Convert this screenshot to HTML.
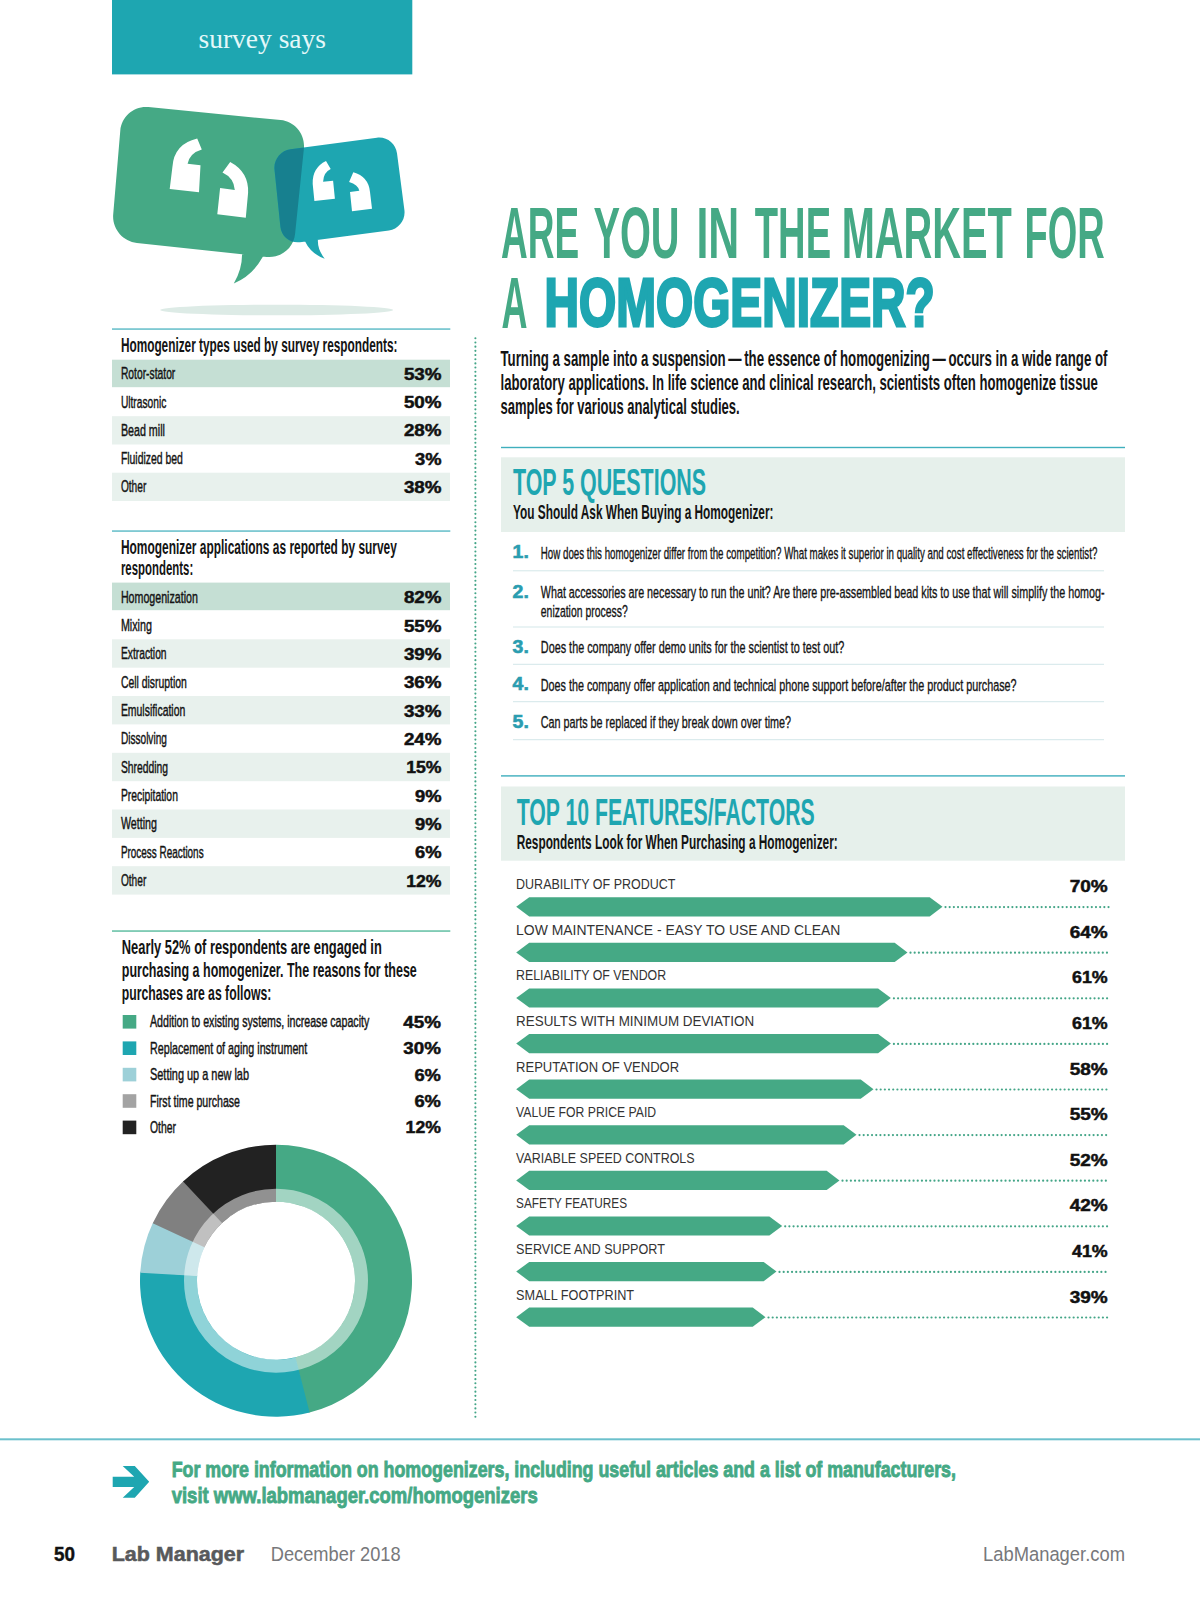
<!DOCTYPE html>
<html lang="en"><head><meta charset="utf-8"><title>Survey Says: Are You in the Market for a Homogenizer?</title>
<style>
html,body{margin:0;padding:0;background:#fff}
body{width:1200px;height:1613px;overflow:hidden;position:relative}
svg{display:block;position:absolute;left:0;top:0}
text{white-space:pre}
.s{font-family:"Liberation Sans",Arial,Helvetica,sans-serif}
.r{font-family:"Liberation Serif","Times New Roman",serif}
</style></head><body>
<svg width="1200" height="1613" viewBox="0 0 1200 1613">
<g id="header">
<rect x="112.0" y="0.0" width="300.3" height="74.4" fill="#1EA6B1"/>
<text class="r" x="198.5" y="48.3" font-size="28.0" fill="#E4F8F9" textLength="127.5" lengthAdjust="spacingAndGlyphs">survey says</text>
</g>
<g id="bubbles">
<ellipse cx="276.7" cy="310" rx="116.5" ry="5.3" fill="#DDEBE6"/>
<path d="M120.3,130.4 C121.5,116.2 134.1,105.6 148.4,107.0 L280.6,120.1 C294.9,121.5 305.3,134.2 303.9,148.5 L295.1,233.7 C293.7,248.0 280.9,258.4 266.6,256.9 L136.9,243.0 C122.6,241.5 112.0,228.6 113.2,214.4 Z M266,252 L262.2,257.8 Q252,276 233.8,283.4 Q242,270 242.1,254.1 L242,248 Z" fill="#45A985"/>
<path d="M274.5,169.5 C273.5,159.7 280.7,150.5 290.5,149.2 L376.9,137.7 C386.7,136.4 395.7,143.3 397.0,153.2 L404.4,210.1 C405.7,220.0 398.7,229.1 388.9,230.4 L300.0,242.2 C290.2,243.5 281.4,236.5 280.4,226.7 Z M318.5,234 L318,239 Q317,249 324.7,258.7 Q311,254 304.7,240.7 L304,236 Z" fill="#1EA6B1"/>
<clipPath id="gc"><path d="M120.3,130.4 C121.5,116.2 134.1,105.6 148.4,107.0 L280.6,120.1 C294.9,121.5 305.3,134.2 303.9,148.5 L295.1,233.7 C293.7,248.0 280.9,258.4 266.6,256.9 L136.9,243.0 C122.6,241.5 112.0,228.6 113.2,214.4 Z M266,252 L262.2,257.8 Q252,276 233.8,283.4 Q242,270 242.1,254.1 L242,248 Z"/></clipPath>
<path d="M274.5,169.5 C273.5,159.7 280.7,150.5 290.5,149.2 L376.9,137.7 C386.7,136.4 395.7,143.3 397.0,153.2 L404.4,210.1 C405.7,220.0 398.7,229.1 388.9,230.4 L300.0,242.2 C290.2,243.5 281.4,236.5 280.4,226.7 Z M318.5,234 L318,239 Q317,249 324.7,258.7 Q311,254 304.7,240.7 L304,236 Z" fill="#17808F" clip-path="url(#gc)"/>
<path d="M169.7,189 L199,192.3 L200.5,165.2 L187.6,163.7 Q190,153 201.8,149.6 L197.2,138.6 Q174,144 172.4,167 Z" fill="#fff"/>
<path d="M230.2,161.9 Q249,172 248.1,192.7 L245.8,217.8 L217.3,214.3 L220.1,188.1 L234.8,189.9 Q234,178 222.5,172.5 Z" fill="#fff"/>
<path d="M314.4,200.9 L334.9,198.7 L333.1,180.7 L323.1,181.7 Q323.5,172.5 330.7,169.1 L326,161.1 Q312,168 312.7,184 Z" fill="#fff"/>
<path d="M353.3,172.3 Q368.5,176.5 370,192 L372,208.7 L352,211.3 L350,192 L359.3,190.7 Q358,184.5 349.1,182 Z" fill="#fff"/>
</g>
<g id="table1">
<rect x="112.0" y="328.5" width="338.3" height="1.1" fill="#2BA6B5"/>
<text class="s" x="120.9" y="351.7" font-size="20.0" font-weight="700" fill="#141414" textLength="276.5" lengthAdjust="spacingAndGlyphs">Homogenizer types used by survey respondents:</text>
<rect x="112.0" y="359.7" width="338.0" height="27.5" fill="#C5DFD4"/>
<text class="s" x="120.9" y="379.2" font-size="17.1" fill="#141414" textLength="54.4" lengthAdjust="spacingAndGlyphs" stroke="#141414" stroke-width="0.45">Rotor-stator</text>
<text class="s" x="403.9" y="379.7" font-size="16.6" font-weight="700" fill="#111" textLength="37.6" lengthAdjust="spacingAndGlyphs" stroke="#111" stroke-width="0.5">53%</text>
<text class="s" x="120.9" y="407.5" font-size="17.1" fill="#141414" textLength="45.4" lengthAdjust="spacingAndGlyphs" stroke="#141414" stroke-width="0.45">Ultrasonic</text>
<text class="s" x="403.9" y="408.0" font-size="16.6" font-weight="700" fill="#111" textLength="37.6" lengthAdjust="spacingAndGlyphs" stroke="#111" stroke-width="0.5">50%</text>
<rect x="112.0" y="416.2" width="338.0" height="28.3" fill="#E8F1ED"/>
<text class="s" x="120.9" y="435.7" font-size="17.1" fill="#141414" textLength="44.0" lengthAdjust="spacingAndGlyphs" stroke="#141414" stroke-width="0.45">Bead mill</text>
<text class="s" x="403.9" y="436.2" font-size="16.6" font-weight="700" fill="#111" textLength="37.6" lengthAdjust="spacingAndGlyphs" stroke="#111" stroke-width="0.5">28%</text>
<text class="s" x="120.9" y="464.0" font-size="17.1" fill="#141414" textLength="62.0" lengthAdjust="spacingAndGlyphs" stroke="#141414" stroke-width="0.45">Fluidized bed</text>
<text class="s" x="415.0" y="464.5" font-size="16.6" font-weight="700" fill="#111" textLength="26.5" lengthAdjust="spacingAndGlyphs" stroke="#111" stroke-width="0.5">3%</text>
<rect x="112.0" y="472.7" width="338.0" height="28.3" fill="#E8F1ED"/>
<text class="s" x="120.9" y="492.2" font-size="17.1" fill="#141414" textLength="25.4" lengthAdjust="spacingAndGlyphs" stroke="#141414" stroke-width="0.45">Other</text>
<text class="s" x="403.9" y="492.7" font-size="16.6" font-weight="700" fill="#111" textLength="37.6" lengthAdjust="spacingAndGlyphs" stroke="#111" stroke-width="0.5">38%</text>
</g>
<g id="table2">
<rect x="112.0" y="530.5" width="338.3" height="1.1" fill="#2BA6B5"/>
<text class="s" x="120.9" y="553.7" font-size="20.0" font-weight="700" fill="#141414" textLength="276.0" lengthAdjust="spacingAndGlyphs">Homogenizer applications as reported by survey</text>
<text class="s" x="120.9" y="575.3" font-size="20.0" font-weight="700" fill="#141414" textLength="72.3" lengthAdjust="spacingAndGlyphs">respondents:</text>
<rect x="112.0" y="582.6" width="338.0" height="27.6" fill="#C5DFD4"/>
<text class="s" x="120.9" y="602.5" font-size="17.1" fill="#141414" textLength="77.0" lengthAdjust="spacingAndGlyphs" stroke="#141414" stroke-width="0.45">Homogenization</text>
<text class="s" x="403.9" y="603.1" font-size="16.6" font-weight="700" fill="#111" textLength="37.6" lengthAdjust="spacingAndGlyphs" stroke="#111" stroke-width="0.5">82%</text>
<text class="s" x="120.9" y="630.9" font-size="17.1" fill="#141414" textLength="31.0" lengthAdjust="spacingAndGlyphs" stroke="#141414" stroke-width="0.45">Mixing</text>
<text class="s" x="403.9" y="631.5" font-size="16.6" font-weight="700" fill="#111" textLength="37.6" lengthAdjust="spacingAndGlyphs" stroke="#111" stroke-width="0.5">55%</text>
<rect x="112.0" y="639.3" width="338.0" height="28.4" fill="#E8F1ED"/>
<text class="s" x="120.9" y="659.2" font-size="17.1" fill="#141414" textLength="45.7" lengthAdjust="spacingAndGlyphs" stroke="#141414" stroke-width="0.45">Extraction</text>
<text class="s" x="403.9" y="659.8" font-size="16.6" font-weight="700" fill="#111" textLength="37.6" lengthAdjust="spacingAndGlyphs" stroke="#111" stroke-width="0.5">39%</text>
<text class="s" x="120.9" y="687.6" font-size="17.1" fill="#141414" textLength="66.0" lengthAdjust="spacingAndGlyphs" stroke="#141414" stroke-width="0.45">Cell disruption</text>
<text class="s" x="403.9" y="688.2" font-size="16.6" font-weight="700" fill="#111" textLength="37.6" lengthAdjust="spacingAndGlyphs" stroke="#111" stroke-width="0.5">36%</text>
<rect x="112.0" y="696.0" width="338.0" height="28.4" fill="#E8F1ED"/>
<text class="s" x="120.9" y="715.9" font-size="17.1" fill="#141414" textLength="64.4" lengthAdjust="spacingAndGlyphs" stroke="#141414" stroke-width="0.45">Emulsification</text>
<text class="s" x="403.9" y="716.5" font-size="16.6" font-weight="700" fill="#111" textLength="37.6" lengthAdjust="spacingAndGlyphs" stroke="#111" stroke-width="0.5">33%</text>
<text class="s" x="120.9" y="744.3" font-size="17.1" fill="#141414" textLength="46.0" lengthAdjust="spacingAndGlyphs" stroke="#141414" stroke-width="0.45">Dissolving</text>
<text class="s" x="403.9" y="744.9" font-size="16.6" font-weight="700" fill="#111" textLength="37.6" lengthAdjust="spacingAndGlyphs" stroke="#111" stroke-width="0.5">24%</text>
<rect x="112.0" y="752.8" width="338.0" height="28.4" fill="#E8F1ED"/>
<text class="s" x="120.9" y="772.7" font-size="17.1" fill="#141414" textLength="47.0" lengthAdjust="spacingAndGlyphs" stroke="#141414" stroke-width="0.45">Shredding</text>
<text class="s" x="406.2" y="773.3" font-size="16.6" font-weight="700" fill="#111" textLength="35.3" lengthAdjust="spacingAndGlyphs" stroke="#111" stroke-width="0.5">15%</text>
<text class="s" x="120.9" y="801.0" font-size="17.1" fill="#141414" textLength="57.0" lengthAdjust="spacingAndGlyphs" stroke="#141414" stroke-width="0.45">Precipitation</text>
<text class="s" x="415.0" y="801.6" font-size="16.6" font-weight="700" fill="#111" textLength="26.5" lengthAdjust="spacingAndGlyphs" stroke="#111" stroke-width="0.5">9%</text>
<rect x="112.0" y="809.5" width="338.0" height="28.4" fill="#E8F1ED"/>
<text class="s" x="120.9" y="829.4" font-size="17.1" fill="#141414" textLength="36.0" lengthAdjust="spacingAndGlyphs" stroke="#141414" stroke-width="0.45">Wetting</text>
<text class="s" x="415.0" y="830.0" font-size="16.6" font-weight="700" fill="#111" textLength="26.5" lengthAdjust="spacingAndGlyphs" stroke="#111" stroke-width="0.5">9%</text>
<text class="s" x="120.9" y="857.7" font-size="17.1" fill="#141414" textLength="82.7" lengthAdjust="spacingAndGlyphs" stroke="#141414" stroke-width="0.45">Process Reactions</text>
<text class="s" x="415.0" y="858.3" font-size="16.6" font-weight="700" fill="#111" textLength="26.5" lengthAdjust="spacingAndGlyphs" stroke="#111" stroke-width="0.5">6%</text>
<rect x="112.0" y="866.2" width="338.0" height="28.4" fill="#E8F1ED"/>
<text class="s" x="120.9" y="886.1" font-size="17.1" fill="#141414" textLength="25.4" lengthAdjust="spacingAndGlyphs" stroke="#141414" stroke-width="0.45">Other</text>
<text class="s" x="406.2" y="886.7" font-size="16.6" font-weight="700" fill="#111" textLength="35.3" lengthAdjust="spacingAndGlyphs" stroke="#111" stroke-width="0.5">12%</text>
</g>
<g id="purchase">
<rect x="112.0" y="930.3" width="338.3" height="1.5" fill="#62BFA3"/>
<text class="s" x="121.8" y="954.2" font-size="19.8" font-weight="700" fill="#141414" textLength="260.0" lengthAdjust="spacingAndGlyphs">Nearly 52% of respondents are engaged in</text>
<text class="s" x="121.8" y="976.8" font-size="19.8" font-weight="700" fill="#141414" textLength="295.0" lengthAdjust="spacingAndGlyphs">purchasing a homogenizer. The reasons for these</text>
<text class="s" x="121.8" y="999.5" font-size="19.8" font-weight="700" fill="#141414" textLength="149.5" lengthAdjust="spacingAndGlyphs">purchases are as follows:</text>
<rect x="122.7" y="1015.0" width="13.6" height="13.6" fill="#45A985"/>
<text class="s" x="150.0" y="1027.3" font-size="16.6" fill="#141414" textLength="219.3" lengthAdjust="spacingAndGlyphs" stroke="#141414" stroke-width="0.45">Addition to existing systems, increase capacity</text>
<text class="s" x="403.3" y="1027.8" font-size="16.8" font-weight="700" fill="#111" textLength="37.6" lengthAdjust="spacingAndGlyphs" stroke="#111" stroke-width="0.5">45%</text>
<rect x="122.7" y="1041.4" width="13.6" height="13.6" fill="#1EA6B1"/>
<text class="s" x="150.0" y="1053.7" font-size="16.6" fill="#141414" textLength="157.3" lengthAdjust="spacingAndGlyphs" stroke="#141414" stroke-width="0.45">Replacement of aging instrument</text>
<text class="s" x="403.3" y="1054.2" font-size="16.8" font-weight="700" fill="#111" textLength="37.6" lengthAdjust="spacingAndGlyphs" stroke="#111" stroke-width="0.5">30%</text>
<rect x="122.7" y="1067.8" width="13.6" height="13.6" fill="#9DD0D8"/>
<text class="s" x="150.0" y="1080.1" font-size="16.6" fill="#141414" textLength="99.0" lengthAdjust="spacingAndGlyphs" stroke="#141414" stroke-width="0.45">Setting up a new lab</text>
<text class="s" x="414.4" y="1080.6" font-size="16.8" font-weight="700" fill="#111" textLength="26.5" lengthAdjust="spacingAndGlyphs" stroke="#111" stroke-width="0.5">6%</text>
<rect x="122.7" y="1094.2" width="13.6" height="13.6" fill="#A3A3A3"/>
<text class="s" x="150.0" y="1106.5" font-size="16.6" fill="#141414" textLength="90.0" lengthAdjust="spacingAndGlyphs" stroke="#141414" stroke-width="0.45">First time purchase</text>
<text class="s" x="414.4" y="1107.0" font-size="16.8" font-weight="700" fill="#111" textLength="26.5" lengthAdjust="spacingAndGlyphs" stroke="#111" stroke-width="0.5">6%</text>
<rect x="122.7" y="1120.6" width="13.6" height="13.6" fill="#222"/>
<text class="s" x="150.0" y="1132.9" font-size="16.6" fill="#141414" textLength="26.0" lengthAdjust="spacingAndGlyphs" stroke="#141414" stroke-width="0.45">Other</text>
<text class="s" x="405.6" y="1133.4" font-size="16.8" font-weight="700" fill="#111" textLength="35.3" lengthAdjust="spacingAndGlyphs" stroke="#111" stroke-width="0.5">12%</text>
<path d="M276.00,1144.70 A136,136 0 0 1 308.67,1412.72 L294.98,1357.39 A79,79 0 0 0 276.00,1201.70 Z" fill="#45A985"/>
<path d="M309.59,1412.49 A136,136 0 0 1 140.30,1271.69 L197.17,1275.46 A79,79 0 0 0 295.51,1357.25 Z" fill="#1EA6B1"/>
<path d="M140.24,1272.63 A136,136 0 0 1 153.15,1222.36 L204.64,1246.81 A79,79 0 0 0 197.14,1276.01 Z" fill="#9DD0D8"/>
<path d="M152.74,1223.22 A136,136 0 0 1 183.77,1180.75 L222.43,1222.64 A79,79 0 0 0 204.40,1247.31 Z" fill="#808080"/>
<path d="M183.07,1181.40 A136,136 0 0 1 276.00,1144.70 L276.00,1201.70 A79,79 0 0 0 222.02,1223.02 Z" fill="#222"/>
<circle cx="276" cy="1280.7" r="85.5" fill="none" stroke="#fff" stroke-opacity="0.5" stroke-width="13"/>
</g>
<line x1="475.4" y1="338.3" x2="475.4" y2="1420" stroke="#43A587" stroke-width="2.1" stroke-dasharray="0.01 4.17" stroke-linecap="round"/>
<g id="title">
<text class="s" x="501.0" y="258.4" font-size="73.1" font-weight="700" fill="#45A985" textLength="78.1" lengthAdjust="spacingAndGlyphs">ARE</text>
<text class="s" x="593.4" y="258.4" font-size="73.1" font-weight="700" fill="#45A985" textLength="86.2" lengthAdjust="spacingAndGlyphs">YOU</text>
<text class="s" x="696.4" y="258.4" font-size="73.1" font-weight="700" fill="#45A985" textLength="42.8" lengthAdjust="spacingAndGlyphs">IN</text>
<text class="s" x="754.8" y="258.4" font-size="73.1" font-weight="700" fill="#45A985" textLength="76.3" lengthAdjust="spacingAndGlyphs">THE</text>
<text class="s" x="841.7" y="258.4" font-size="73.1" font-weight="700" fill="#45A985" textLength="170.2" lengthAdjust="spacingAndGlyphs">MARKET</text>
<text class="s" x="1024.6" y="258.4" font-size="73.1" font-weight="700" fill="#45A985" textLength="80.2" lengthAdjust="spacingAndGlyphs">FOR</text>
<text class="s" x="501.5" y="327.6" font-size="73.1" font-weight="700" fill="#45A985" textLength="26.0" lengthAdjust="spacingAndGlyphs">A</text>
<text class="s" x="544.5" y="326.3" font-size="69.0" font-weight="700" fill="#1EA6B1" textLength="390.3" lengthAdjust="spacingAndGlyphs" stroke="#1EA6B1" stroke-width="3">HOMOGENIZER?</text>
<text class="s" x="500.5" y="366.0" font-size="21.4" font-weight="700" fill="#141414" textLength="607.0" lengthAdjust="spacingAndGlyphs">Turning a sample into a suspension — the essence of homogenizing — occurs in a wide range of</text>
<text class="s" x="500.5" y="390.0" font-size="21.4" font-weight="700" fill="#141414" textLength="597.3" lengthAdjust="spacingAndGlyphs">laboratory applications. In life science and clinical research, scientists often homogenize tissue</text>
<text class="s" x="500.5" y="414.0" font-size="21.4" font-weight="700" fill="#141414" textLength="239.2" lengthAdjust="spacingAndGlyphs">samples for various analytical studies.</text>
</g>
<g id="top5">
<rect x="501.0" y="446.8" width="624.0" height="1.4" fill="#3FAFBD"/>
<rect x="501.0" y="457.3" width="624.0" height="74.7" fill="#E6F0EB"/>
<text class="s" x="513.0" y="494.8" font-size="36.0" font-weight="700" fill="#1EA6B1" textLength="193.0" lengthAdjust="spacingAndGlyphs">TOP 5 QUESTIONS</text>
<text class="s" x="513.0" y="519.2" font-size="20.2" font-weight="700" fill="#141414" textLength="260.5" lengthAdjust="spacingAndGlyphs">You Should Ask When Buying a Homogenizer:</text>
<text class="s" x="512.6" y="558.4" font-size="17.9" font-weight="700" fill="#2A9DB0" textLength="16.2" lengthAdjust="spacingAndGlyphs" stroke="#2A9DB0" stroke-width="0.6">1.</text>
<text class="s" x="540.8" y="558.8" font-size="17.1" fill="#141414" textLength="556.5" lengthAdjust="spacingAndGlyphs" stroke="#141414" stroke-width="0.35">How does this homogenizer differ from the competition? What makes it superior in quality and cost effectiveness for the scientist?</text>
<text class="s" x="512.6" y="597.5" font-size="17.9" font-weight="700" fill="#2A9DB0" textLength="16.2" lengthAdjust="spacingAndGlyphs" stroke="#2A9DB0" stroke-width="0.6">2.</text>
<text class="s" x="540.8" y="597.9" font-size="17.1" fill="#141414" textLength="563.8" lengthAdjust="spacingAndGlyphs" stroke="#141414" stroke-width="0.35">What accessories are necessary to run the unit? Are there pre-assembled bead kits to use that will simplify the homog-</text>
<text class="s" x="540.8" y="616.6" font-size="17.1" fill="#141414" textLength="86.9" lengthAdjust="spacingAndGlyphs" stroke="#141414" stroke-width="0.35">enization process?</text>
<text class="s" x="512.6" y="652.5" font-size="17.9" font-weight="700" fill="#2A9DB0" textLength="16.2" lengthAdjust="spacingAndGlyphs" stroke="#2A9DB0" stroke-width="0.6">3.</text>
<text class="s" x="540.8" y="652.9" font-size="17.1" fill="#141414" textLength="303.5" lengthAdjust="spacingAndGlyphs" stroke="#141414" stroke-width="0.35">Does the company offer demo units for the scientist to test out?</text>
<text class="s" x="512.6" y="690.4" font-size="17.9" font-weight="700" fill="#2A9DB0" textLength="16.2" lengthAdjust="spacingAndGlyphs" stroke="#2A9DB0" stroke-width="0.6">4.</text>
<text class="s" x="540.8" y="690.8" font-size="17.1" fill="#141414" textLength="475.8" lengthAdjust="spacingAndGlyphs" stroke="#141414" stroke-width="0.35">Does the company offer application and technical phone support before/after the product purchase?</text>
<text class="s" x="512.6" y="727.8" font-size="17.9" font-weight="700" fill="#2A9DB0" textLength="16.2" lengthAdjust="spacingAndGlyphs" stroke="#2A9DB0" stroke-width="0.6">5.</text>
<text class="s" x="540.8" y="728.2" font-size="17.1" fill="#141414" textLength="250.3" lengthAdjust="spacingAndGlyphs" stroke="#141414" stroke-width="0.35">Can parts be replaced if they break down over time?</text>
<rect x="513.0" y="570.3" width="591.0" height="1.0" fill="#D3E7E9"/>
<rect x="513.0" y="626.5" width="591.0" height="1.0" fill="#D3E7E9"/>
<rect x="513.0" y="663.8" width="591.0" height="1.0" fill="#D3E7E9"/>
<rect x="513.0" y="701.2" width="591.0" height="1.0" fill="#D3E7E9"/>
<rect x="513.0" y="739.2" width="591.0" height="1.0" fill="#D3E7E9"/>
</g>
<g id="top10">
<rect x="501.0" y="775.2" width="624.0" height="1.4" fill="#3FAFBD"/>
<rect x="501.0" y="786.5" width="624.0" height="74.2" fill="#E6F0EB"/>
<text class="s" x="516.7" y="824.8" font-size="36.0" font-weight="700" fill="#1EA6B1" textLength="298.0" lengthAdjust="spacingAndGlyphs">TOP 10 FEATURES/FACTORS</text>
<text class="s" x="516.7" y="849.2" font-size="20.2" font-weight="700" fill="#141414" textLength="321.0" lengthAdjust="spacingAndGlyphs">Respondents Look for When Purchasing a Homogenizer:</text>
<text class="s" x="516.1" y="889.1" font-size="14.8" fill="#333" textLength="159.3" lengthAdjust="spacingAndGlyphs">DURABILITY OF PRODUCT</text>
<text class="s" x="1069.7" y="892.2" font-size="17.1" font-weight="700" fill="#111" textLength="38.0" lengthAdjust="spacingAndGlyphs" stroke="#111" stroke-width="0.5">70%</text>
<path d="M516.2,906.8 L529.2,897.2 L929.7,897.2 L942.5,906.8 L929.7,916.4 L529.2,916.4 Z" fill="#45A985"/>
<line x1="945.5" y1="907.1" x2="1109.5" y2="907.1" stroke="#43A587" stroke-width="2.2" stroke-dasharray="0.01 4.17" stroke-linecap="round"/>
<text class="s" x="516.1" y="934.7" font-size="14.8" fill="#333" textLength="324.3" lengthAdjust="spacingAndGlyphs">LOW MAINTENANCE - EASY TO USE AND CLEAN</text>
<text class="s" x="1069.7" y="937.8" font-size="17.1" font-weight="700" fill="#111" textLength="38.0" lengthAdjust="spacingAndGlyphs" stroke="#111" stroke-width="0.5">64%</text>
<path d="M516.2,952.4 L529.2,942.8 L894.7,942.8 L907.5,952.4 L894.7,962.0 L529.2,962.0 Z" fill="#45A985"/>
<line x1="910.5" y1="952.7" x2="1109.5" y2="952.7" stroke="#43A587" stroke-width="2.2" stroke-dasharray="0.01 4.17" stroke-linecap="round"/>
<text class="s" x="516.1" y="980.3" font-size="14.8" fill="#333" textLength="150.0" lengthAdjust="spacingAndGlyphs">RELIABILITY OF VENDOR</text>
<text class="s" x="1072.0" y="983.4" font-size="17.1" font-weight="700" fill="#111" textLength="35.7" lengthAdjust="spacingAndGlyphs" stroke="#111" stroke-width="0.5">61%</text>
<path d="M516.2,998.0 L529.2,988.4 L878.1,988.4 L890.9,998.0 L878.1,1007.6 L529.2,1007.6 Z" fill="#45A985"/>
<line x1="893.9" y1="998.3" x2="1109.5" y2="998.3" stroke="#43A587" stroke-width="2.2" stroke-dasharray="0.01 4.17" stroke-linecap="round"/>
<text class="s" x="516.1" y="1025.9" font-size="14.8" fill="#333" textLength="238.0" lengthAdjust="spacingAndGlyphs">RESULTS WITH MINIMUM DEVIATION</text>
<text class="s" x="1072.0" y="1029.0" font-size="17.1" font-weight="700" fill="#111" textLength="35.7" lengthAdjust="spacingAndGlyphs" stroke="#111" stroke-width="0.5">61%</text>
<path d="M516.2,1043.6 L529.2,1034.0 L878.1,1034.0 L890.9,1043.6 L878.1,1053.2 L529.2,1053.2 Z" fill="#45A985"/>
<line x1="893.9" y1="1043.9" x2="1109.5" y2="1043.9" stroke="#43A587" stroke-width="2.2" stroke-dasharray="0.01 4.17" stroke-linecap="round"/>
<text class="s" x="516.1" y="1071.5" font-size="14.8" fill="#333" textLength="163.0" lengthAdjust="spacingAndGlyphs">REPUTATION OF VENDOR</text>
<text class="s" x="1069.7" y="1074.6" font-size="17.1" font-weight="700" fill="#111" textLength="38.0" lengthAdjust="spacingAndGlyphs" stroke="#111" stroke-width="0.5">58%</text>
<path d="M516.2,1089.2 L529.2,1079.6 L860.7,1079.6 L873.5,1089.2 L860.7,1098.8 L529.2,1098.8 Z" fill="#45A985"/>
<line x1="876.5" y1="1089.5" x2="1109.5" y2="1089.5" stroke="#43A587" stroke-width="2.2" stroke-dasharray="0.01 4.17" stroke-linecap="round"/>
<text class="s" x="516.1" y="1117.1" font-size="14.8" fill="#333" textLength="140.0" lengthAdjust="spacingAndGlyphs">VALUE FOR PRICE PAID</text>
<text class="s" x="1069.7" y="1120.2" font-size="17.1" font-weight="700" fill="#111" textLength="38.0" lengthAdjust="spacingAndGlyphs" stroke="#111" stroke-width="0.5">55%</text>
<path d="M516.2,1134.8 L529.2,1125.2 L843.7,1125.2 L856.5,1134.8 L843.7,1144.4 L529.2,1144.4 Z" fill="#45A985"/>
<line x1="859.5" y1="1135.1" x2="1109.5" y2="1135.1" stroke="#43A587" stroke-width="2.2" stroke-dasharray="0.01 4.17" stroke-linecap="round"/>
<text class="s" x="516.1" y="1162.7" font-size="14.8" fill="#333" textLength="178.5" lengthAdjust="spacingAndGlyphs">VARIABLE SPEED CONTROLS</text>
<text class="s" x="1069.7" y="1165.8" font-size="17.1" font-weight="700" fill="#111" textLength="38.0" lengthAdjust="spacingAndGlyphs" stroke="#111" stroke-width="0.5">52%</text>
<path d="M516.2,1180.4 L529.2,1170.8 L826.7,1170.8 L839.5,1180.4 L826.7,1190.0 L529.2,1190.0 Z" fill="#45A985"/>
<line x1="842.5" y1="1180.7" x2="1109.5" y2="1180.7" stroke="#43A587" stroke-width="2.2" stroke-dasharray="0.01 4.17" stroke-linecap="round"/>
<text class="s" x="516.1" y="1208.3" font-size="14.8" fill="#333" textLength="111.0" lengthAdjust="spacingAndGlyphs">SAFETY FEATURES</text>
<text class="s" x="1069.7" y="1211.4" font-size="17.1" font-weight="700" fill="#111" textLength="38.0" lengthAdjust="spacingAndGlyphs" stroke="#111" stroke-width="0.5">42%</text>
<path d="M516.2,1226.0 L529.2,1216.4 L769.4000000000001,1216.4 L782.2,1226.0 L769.4000000000001,1235.6 L529.2,1235.6 Z" fill="#45A985"/>
<line x1="785.2" y1="1226.3" x2="1109.5" y2="1226.3" stroke="#43A587" stroke-width="2.2" stroke-dasharray="0.01 4.17" stroke-linecap="round"/>
<text class="s" x="516.1" y="1253.9" font-size="14.8" fill="#333" textLength="148.8" lengthAdjust="spacingAndGlyphs">SERVICE AND SUPPORT</text>
<text class="s" x="1072.0" y="1257.0" font-size="17.1" font-weight="700" fill="#111" textLength="35.7" lengthAdjust="spacingAndGlyphs" stroke="#111" stroke-width="0.5">41%</text>
<path d="M516.2,1271.6 L529.2,1262.0 L763.7,1262.0 L776.5,1271.6 L763.7,1281.2 L529.2,1281.2 Z" fill="#45A985"/>
<line x1="779.5" y1="1271.9" x2="1109.5" y2="1271.9" stroke="#43A587" stroke-width="2.2" stroke-dasharray="0.01 4.17" stroke-linecap="round"/>
<text class="s" x="516.1" y="1299.5" font-size="14.8" fill="#333" textLength="118.0" lengthAdjust="spacingAndGlyphs">SMALL FOOTPRINT</text>
<text class="s" x="1069.7" y="1302.6" font-size="17.1" font-weight="700" fill="#111" textLength="38.0" lengthAdjust="spacingAndGlyphs" stroke="#111" stroke-width="0.5">39%</text>
<path d="M516.2,1317.2 L529.2,1307.6 L752.7,1307.6 L765.5,1317.2 L752.7,1326.8 L529.2,1326.8 Z" fill="#45A985"/>
<line x1="768.5" y1="1317.5" x2="1109.5" y2="1317.5" stroke="#43A587" stroke-width="2.2" stroke-dasharray="0.01 4.17" stroke-linecap="round"/>
</g>
<g id="footer">
<rect x="0.0" y="1438.3" width="1200.0" height="2.0" fill="#6CC0CC"/>
<path d="M112.7,1476.7 L134.2,1476.7 L122.7,1466 L134.8,1466 L149.2,1481.8 L134.8,1497.7 L122.7,1497.7 L134.2,1486.9 L112.7,1486.9 Z" fill="#1EA6B1"/>
<text class="s" x="171.7" y="1476.9" font-size="22.8" font-weight="700" fill="#45A985" textLength="784.3" lengthAdjust="spacingAndGlyphs" stroke="#45A985" stroke-width="0.9">For more information on homogenizers, including useful articles and a list of manufacturers,</text>
<text class="s" x="171.7" y="1503.4" font-size="22.8" font-weight="700" fill="#45A985" textLength="366.0" lengthAdjust="spacingAndGlyphs" stroke="#45A985" stroke-width="0.9">visit www.labmanager.com/homogenizers</text>
<text class="s" x="54.0" y="1560.8" font-size="19.3" font-weight="700" fill="#111" textLength="21.0" lengthAdjust="spacingAndGlyphs" stroke="#111" stroke-width="0.4">50</text>
<text class="s" x="111.7" y="1560.8" font-size="19.3" font-weight="700" fill="#58595B" textLength="132.5" lengthAdjust="spacingAndGlyphs" stroke="#58595B" stroke-width="0.5">Lab Manager</text>
<text class="s" x="270.7" y="1560.8" font-size="19.3" fill="#77787B" textLength="130.0" lengthAdjust="spacingAndGlyphs">December 2018</text>
<text class="s" x="983.0" y="1560.8" font-size="19.3" fill="#77787B" textLength="142.0" lengthAdjust="spacingAndGlyphs">LabManager.com</text>
</g>
</svg>
</body></html>
